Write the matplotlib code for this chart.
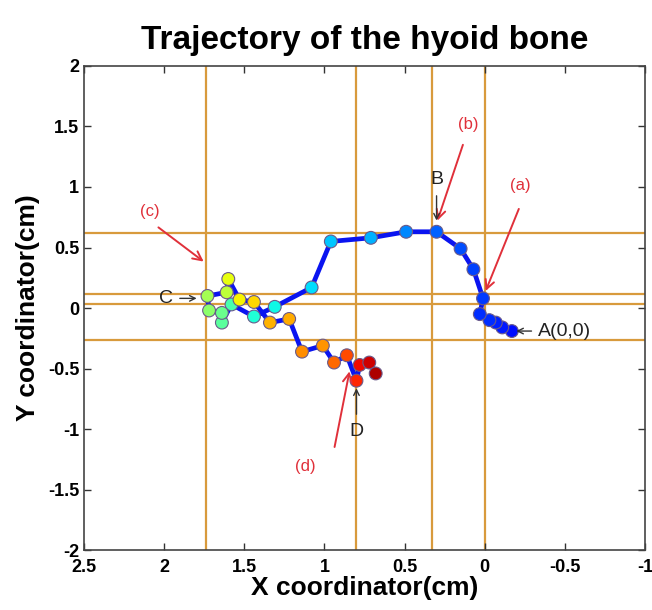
import numpy as np
import matplotlib
matplotlib.use('Agg')
import matplotlib.pyplot as plt

plt.rcParams['font.family'] = ['Liberation Sans', 'DejaVu Sans']

# trajectory of the hyoid bone, from A (start) to D (end)
x_cm = [-0.17, -0.11, -0.07, -0.03, 0.03, 0.01, 0.07, 0.15, 0.30, 0.49,
        0.71, 0.96, 1.08, 1.31, 1.44, 1.58, 1.64, 1.64, 1.72, 1.73,
        1.61, 1.60, 1.53, 1.44, 1.34, 1.22, 1.14, 1.01, 0.94, 0.86,
        0.80, 0.78, 0.72, 0.68]
y_cm = [-0.19, -0.16, -0.12, -0.10, -0.05, 0.08, 0.32, 0.49, 0.63, 0.63,
        0.58, 0.55, 0.17, 0.01, -0.07, 0.03, -0.12, -0.04, -0.02, 0.10,
        0.13, 0.24, 0.07, 0.05, -0.12, -0.09, -0.36, -0.31, -0.45, -0.39,
        -0.60, -0.47, -0.45, -0.54]
# relative time of each point (drives the jet colour)
t_rel = [0.14, 0.15, 0.16, 0.17, 0.17, 0.18, 0.19, 0.20, 0.22, 0.26,
         0.30, 0.32, 0.34, 0.37, 0.39, 0.44, 0.46, 0.48, 0.52, 0.55,
         0.58, 0.63, 0.65, 0.68, 0.72, 0.73, 0.76, 0.75, 0.80, 0.83,
         0.87, 0.90, 0.93, 0.96]

# reference lines
vlines = [1.74, 0.80, 0.33, 0.0]
hlines = [0.62, 0.12, 0.03, -0.26]

xticks = [2.5, 2, 1.5, 1, 0.5, 0, -0.5, -1]
xtick_labels = ['2.5', '2', '1.5', '1', '0.5', '0', '-0.5', '-1']
yticks = [2, 1.5, 1, 0.5, 0, -0.5, -1, -1.5, -2]
ytick_labels = ['2', '1.5', '1', '0.5', '0', '-0.5', '-1', '-1.5', '-2']

fig = plt.figure(figsize=(6.52, 6.10), dpi=100)
ax = fig.add_axes([0.129, 0.098, 0.860, 0.794])

orange = '#d89a3c'
for v in vlines:
    ax.axvline(v, color=orange, lw=1.6, zorder=1)
for h in hlines:
    ax.axhline(h, color=orange, lw=1.6, zorder=1)

ax.plot(x_cm, y_cm, color='#0a14f0', lw=3.4, zorder=2)
cols = plt.cm.jet(t_rel)
ax.scatter(x_cm, y_cm, s=85, c=cols, edgecolors='#6a5a8a', linewidths=0.8, zorder=3)

ax.set_xlim(2.5, -1)
ax.set_ylim(-2, 2)
ax.set_xticks(xticks)
ax.set_xticklabels(xtick_labels)
ax.set_yticks(yticks)
ax.set_yticklabels(ytick_labels)
ax.tick_params(direction='in', top=True, right=True, length=5, width=1,
               labelsize=13, color='#333333')
ax.tick_params(axis='x', pad=6)
for lbl in ax.get_xticklabels() + ax.get_yticklabels():
    lbl.set_fontweight('bold')
for sp in ax.spines.values():
    sp.set_color('#444444')
    sp.set_linewidth(1.2)

ax.set_title('Trajectory of the hyoid bone', fontsize=24, fontweight='bold', pad=12)
ax.set_xlabel('X coordinator(cm)', fontsize=19, fontweight='bold', labelpad=0)
ax.set_ylabel('Y coordinator(cm)', fontsize=19, fontweight='bold', labelpad=6)

# red labels with arrows
red = '#e0303a'
red_notes = [('(a)', (-0.22, 1.01), (-0.22, 0.84), (0.0, 0.12)),
             ('(b)', (0.10, 1.52), (0.13, 1.37), (0.30, 0.70)),
             ('(c)', (2.09, 0.80), (2.05, 0.68), (1.74, 0.37)),
             ('(d)', (1.12, -1.31), (0.94, -1.17), (0.84, -0.50))]
for txt, tpos, tail, head in red_notes:
    ax.text(tpos[0], tpos[1], txt, color=red, fontsize=12, ha='center', va='center')
    ax.annotate('', xy=head, xytext=tail,
                arrowprops=dict(arrowstyle='->', color=red, lw=1.4, mutation_scale=16))

# black point labels
black_notes = [('A(0,0)', (-0.33, -0.19), 'left', (-0.31, -0.19), (-0.18, -0.19)),
               ('B', (0.30, 1.06), 'center', (0.30, 0.95), (0.30, 0.70)),
               ('C', (1.99, 0.08), 'center', (1.92, 0.08), (1.78, 0.08)),
               ('D', (0.80, -1.02), 'center', (0.80, -0.90), (0.80, -0.64))]
for txt, tpos, ha, tail, head in black_notes:
    ax.text(tpos[0], tpos[1], txt, color='#222222', fontsize=14, ha=ha, va='center')
    ax.annotate('', xy=head, xytext=tail,
                arrowprops=dict(arrowstyle='->', color='#333333', lw=1.0, mutation_scale=10))

fig.savefig('out.png', dpi=100)
